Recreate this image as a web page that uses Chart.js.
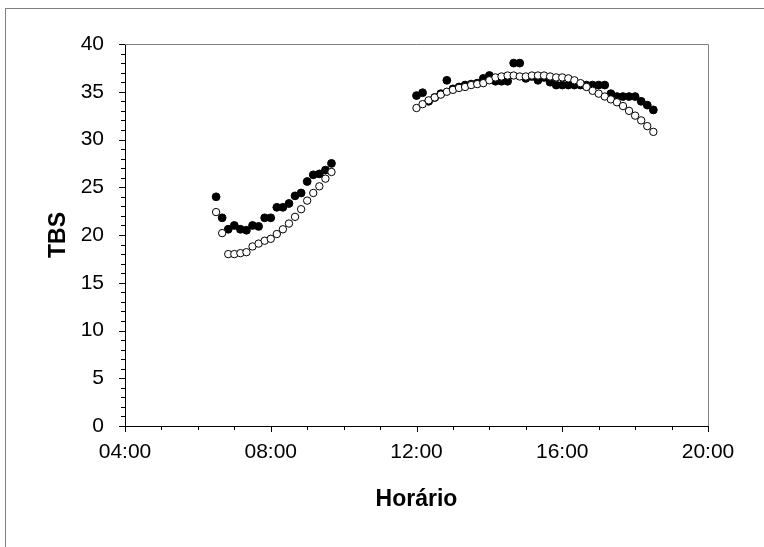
<!DOCTYPE html>
<html>
<head>
<meta charset="utf-8">
<script src="https://cdn.jsdelivr.net/npm/chart.js@4.4.1/dist/chart.umd.min.js"></script>
<style>
  html, body { margin: 0; padding: 0; background: #fff; }
</style>
</head>
<body>
<canvas id="grafico" width="764" height="547"></canvas>
<script>
// manhã (a cada 10 min)
const horasManha = ['06:30','06:40','06:50','07:00','07:10','07:20','07:30','07:40','07:50','08:00',
  '08:10','08:20','08:30','08:40','08:50','09:00','09:10','09:20','09:30','09:40'];
const cheiosManha = [24.0, 21.8, 20.6, 21.0, 20.6, 20.5, 21.0, 20.9, 21.8, 21.8,
  22.9, 22.9, 23.3, 24.1, 24.4, 25.6, 26.3, 26.4, 26.8, 27.5];
const vaziosManha = [22.4, 20.2, 18.0, 18.0, 18.1, 18.2, 18.8, 19.1, 19.4, 19.6,
  20.1, 20.6, 21.2, 21.9, 22.7, 23.6, 24.4, 25.1, 25.9, 26.6];

// tarde
const horasTarde = ['12:00','12:10','12:20','12:30','12:40','12:50','13:00','13:10','13:20','13:30',
  '13:40','13:50','14:00','14:10','14:20','14:30','14:40','14:50','15:00','15:10',
  '15:20','15:30','15:40','15:50','16:00','16:10','16:20','16:30','16:40','16:50',
  '17:00','17:10','17:20','17:30','17:40','17:50','18:00','18:10','18:20','18:30'];
const cheiosTarde = [34.6, 34.9, 34.0, 34.4, 34.8, 36.2, 35.3, 35.5, 35.7, 35.8,
  35.9, 36.4, 36.7, 36.1, 36.1, 36.1, 38.0, 38.0, 36.4, 36.6,
  36.2, 36.5, 36.0, 35.7, 35.7, 35.7, 35.7, 35.7, 35.7, 35.7,
  35.7, 35.7, 34.8, 34.5, 34.5, 34.5, 34.5, 34.0, 33.6, 33.1];
const vaziosTarde = [33.3, 33.7, 34.1, 34.4, 34.7, 35.0, 35.2, 35.4, 35.5, 35.7,
  35.8, 35.9, 36.2, 36.5, 36.6, 36.7, 36.7, 36.6, 36.6, 36.7,
  36.7, 36.7, 36.6, 36.5, 36.5, 36.4, 36.2, 35.9, 35.5, 35.1,
  34.8, 34.5, 34.2, 33.9, 33.5, 33.0, 32.5, 32.0, 31.4, 30.8];

const xTicks = [4, 8, 12, 16, 20];
const yTicks = [0, 5, 10, 15, 20, 25, 30, 35, 40];

const aHoras = (s) => { const [h, m] = s.split(':').map(Number); return h + m / 60; };
const pontos = (horas, valores) => horas.map((h, i) => ({ x: aHoras(h), y: valores[i] }));

const fonte = '"Liberation Sans", Arial, sans-serif';

// moldura externa, caixa do gráfico e marcas dos eixos
const moldura = {
  id: 'moldura',
  beforeDraw(chart) {
    const ctx = chart.ctx;
    ctx.save();
    ctx.fillStyle = '#fff';
    ctx.fillRect(0, 0, chart.width, chart.height);
    ctx.strokeStyle = '#7f7f7f';
    ctx.lineWidth = 1;
    ctx.strokeRect(5.5, 8.5, 900, 700);
    ctx.restore();
  },
  afterDraw(chart) {
    const ctx = chart.ctx;
    const { left, right, top, bottom } = chart.chartArea;
    const x = chart.scales.x, y = chart.scales.y;
    ctx.save();
    ctx.lineWidth = 1;
    ctx.strokeStyle = '#808080';
    ctx.beginPath();
    ctx.moveTo(left, Math.round(top) + 0.5);
    ctx.lineTo(Math.round(right) + 0.5, Math.round(top) + 0.5);
    ctx.lineTo(Math.round(right) + 0.5, bottom);
    ctx.stroke();
    ctx.strokeStyle = '#000';
    ctx.beginPath();
    for (let h = 4; h <= 20; h++) {
      const px = Math.round(x.getPixelForValue(h)) + 0.5;
      ctx.moveTo(px, bottom);
      ctx.lineTo(px, bottom + (h % 4 === 0 ? 6 : 4));
    }
    for (let v = 0; v <= 40; v++) {
      const py = Math.round(y.getPixelForValue(v)) + 0.5;
      ctx.moveTo(left, py);
      ctx.lineTo(left - (v % 5 === 0 ? 6 : 4), py);
    }
    ctx.stroke();
    ctx.restore();
  }
};

new Chart(document.getElementById('grafico'), {
  type: 'scatter',
  data: {
    datasets: [
      {
        label: 'vazio',
        data: pontos(horasManha, vaziosManha).concat(pontos(horasTarde, vaziosTarde)),
        pointRadius: 3.7,
        pointBorderWidth: 1,
        pointBackgroundColor: '#fff',
        pointBorderColor: '#000',
        showLine: false
      },
      {
        label: 'cheio',
        data: pontos(horasManha, cheiosManha).concat(pontos(horasTarde, cheiosTarde)),
        pointRadius: 3.9,
        pointBorderWidth: 1,
        pointBackgroundColor: '#000',
        pointBorderColor: '#000',
        showLine: false
      }
    ]
  },
  options: {
    responsive: false,
    animation: false,
    layout: { padding: { left: 0, top: 44, right: 56, bottom: 0 } },
    plugins: { legend: { display: false }, tooltip: { enabled: false } },
    scales: {
      x: {
        type: 'linear',
        min: 4,
        max: 20,
        afterBuildTicks: (s) => { s.ticks = xTicks.map(v => ({ value: v })); },
        afterFit: (s) => { s.height = 121; },
        grid: { display: false, drawTicks: false },
        border: { display: true, color: '#000', width: 1 },
        ticks: {
          padding: 14,
          color: '#000',
          font: { family: fonte, size: 21 },
          callback: (v) => String(v).padStart(2, '0') + ':00'
        },
        title: {
          display: true,
          text: 'Horário',
          color: '#000',
          font: { family: fonte, size: 23, weight: 'bold' },
          padding: { top: 0, bottom: 34 }
        }
      },
      y: {
        min: 0,
        max: 40,
        afterBuildTicks: (s) => { s.ticks = yTicks.map(v => ({ value: v })); },
        afterFit: (s) => { s.width = 125; },
        grid: { display: false, drawTicks: false },
        border: { display: true, color: '#000', width: 1 },
        ticks: {
          padding: 21,
          color: '#000',
          font: { family: fonte, size: 21 }
        },
        title: {
          display: true,
          text: 'TBS',
          color: '#000',
          font: { family: fonte, size: 23, weight: 'bold' },
          padding: { top: 45, bottom: 0 }
        }
      }
    }
  },
  plugins: [moldura]
});
</script>
</body>
</html>
